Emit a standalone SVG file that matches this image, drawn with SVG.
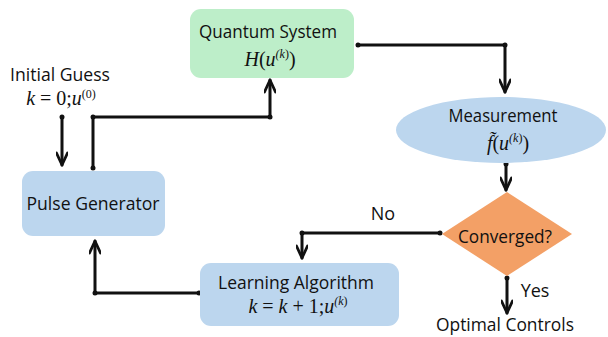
<svg xmlns="http://www.w3.org/2000/svg" width="608" height="337" viewBox="0 0 608 337">
<style>
.lbl{font-family:"Open Sans","DejaVu Sans",sans-serif;font-size:18px;fill:#111;text-anchor:middle}
.math{font-family:"Liberation Serif","Times New Roman",serif;font-style:italic;font-size:20px;fill:#111;text-anchor:middle}
.up{font-family:"Liberation Serif","Times New Roman",serif;font-style:normal}
.sup{font-size:12px}
.conn{fill:none;stroke:#111;stroke-width:3;stroke-linejoin:round;stroke-linecap:round}
.dot{fill:#111}
</style>
<defs>
<marker id="arr" viewBox="0 0 16 12" refX="14" refY="6" markerWidth="16" markerHeight="12" markerUnits="userSpaceOnUse" orient="auto">
<path d="M2,0.5 L14,6 L2,11.5" fill="none" stroke="#111" stroke-width="2.8" stroke-linecap="round" stroke-linejoin="round"/>
</marker>
</defs>
<g id="connectors">
<path class="conn" d="M358,45 L505,45 L505,92" marker-end="url(#arr)"/>
<circle class="dot" cx="358" cy="45" r="2.5"/><circle class="dot" cx="505" cy="45" r="2.5"/>
<path class="conn" d="M506,164 L506,190" marker-end="url(#arr)"/>
<circle class="dot" cx="506" cy="164" r="2.5"/>
<path class="conn" d="M440,233 L302,233 L302,258" marker-end="url(#arr)"/>
<circle class="dot" cx="440" cy="233" r="2.5"/><circle class="dot" cx="302" cy="233" r="2.5"/>
<path class="conn" d="M199,293 L95,293 L95,241" marker-end="url(#arr)"/>
<circle class="dot" cx="199" cy="293" r="2.5"/><circle class="dot" cx="95" cy="293" r="2.5"/>
<path class="conn" d="M93,168 L93,117 L270,117 L270,80" marker-end="url(#arr)"/>
<circle class="dot" cx="93" cy="168" r="2.5"/><circle class="dot" cx="93" cy="117" r="2.5"/><circle class="dot" cx="270" cy="117" r="2.5"/>
<path class="conn" d="M62,117 L62,165" marker-end="url(#arr)"/>
<circle class="dot" cx="62" cy="117" r="2.5"/>
<path class="conn" d="M507,278 L507,313" marker-end="url(#arr)"/>
<circle class="dot" cx="507" cy="278" r="2.5"/>
<text class="lbl" x="383" y="220">No</text>
<text class="lbl" x="535" y="297">Yes</text>
</g>
<g id="quantum">
<rect x="190" y="9" width="164" height="69" rx="11" fill="#bdeec9"/>
<text class="lbl" x="268" y="38" textLength="138" lengthAdjust="spacingAndGlyphs">Quantum System</text>
<text class="math" x="270" y="66">H<tspan class="up">(</tspan>u<tspan class="sup" dy="-8">(</tspan><tspan class="sup">k</tspan><tspan class="sup up">)</tspan><tspan class="up" dy="8">)</tspan></text>
</g>
<g id="measurement">
<ellipse cx="501" cy="130" rx="105" ry="33" fill="#bcd6ee"/>
<text class="lbl" x="503" y="122" textLength="109" lengthAdjust="spacingAndGlyphs">Measurement</text>
<text class="math" x="508" y="150">f̃<tspan class="up">(</tspan>u<tspan class="sup" dy="-8">(</tspan><tspan class="sup">k</tspan><tspan class="sup up">)</tspan><tspan class="up" dy="8">)</tspan></text>
</g>
<g id="converged">
<polygon points="507,192 572,234 507,276 442,234" fill="#f3a066"/>
<text class="lbl" x="505" y="243" textLength="94" lengthAdjust="spacingAndGlyphs">Converged?</text>
</g>
<g id="learning">
<rect x="200" y="263" width="199" height="63" rx="11" fill="#bcd6ee"/>
<text class="lbl" x="296" y="289" textLength="156" lengthAdjust="spacingAndGlyphs">Learning Algorithm</text>
<text class="math" x="298" y="313">k <tspan class="up">= </tspan>k <tspan class="up">+ 1;</tspan>u<tspan class="sup" dy="-8">(</tspan><tspan class="sup">k</tspan><tspan class="sup up">)</tspan></text>
</g>
<g id="pulse">
<rect x="22" y="171" width="143" height="65" rx="11" fill="#bcd6ee"/>
<text class="lbl" x="93" y="210" textLength="133" lengthAdjust="spacingAndGlyphs">Pulse Generator</text>
</g>
<g id="initial">
<text class="lbl" x="60" y="81" textLength="100" lengthAdjust="spacingAndGlyphs">Initial Guess</text>
<text class="math" x="61" y="105">k <tspan class="up">= 0;</tspan>u<tspan class="sup up" dy="-7">(0)</tspan></text>
</g>
<g id="optimal">
<text class="lbl" x="505" y="331" textLength="138" lengthAdjust="spacingAndGlyphs">Optimal Controls</text>
</g>
</svg>
